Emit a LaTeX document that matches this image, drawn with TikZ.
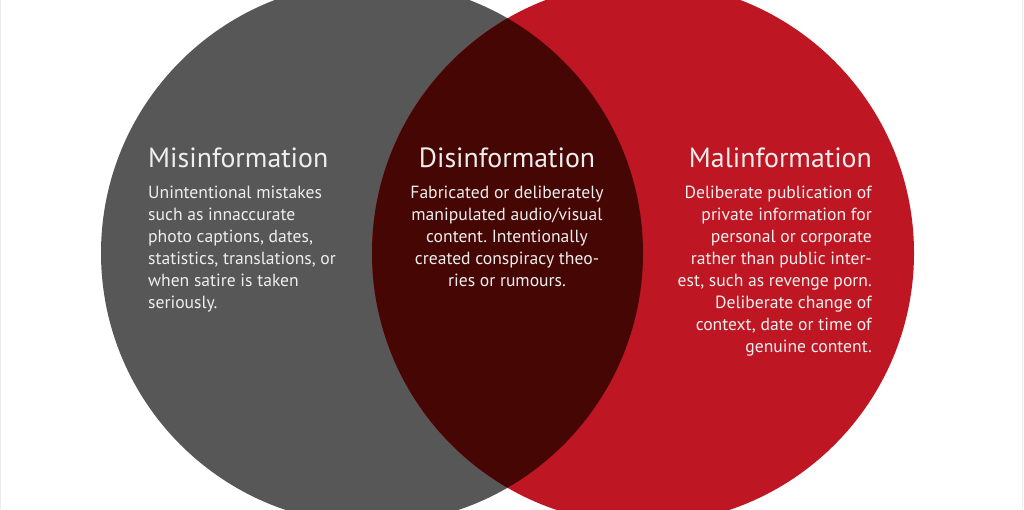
\documentclass[tikz,border=0pt]{standalone}
\usepackage{fontspec}
\setmainfont{PT Sans}
\frenchspacing
\definecolor{cgray}{RGB}{87,87,87}
\definecolor{cred}{RGB}{190,22,34}
\definecolor{cdark}{RGB}{70,6,4}
\definecolor{ctext}{RGB}{238,238,238}
\definecolor{cedge}{RGB}{236,236,236}
\begin{document}
\begin{tikzpicture}[x=1pt,y=-1pt,
  title/.style={text=ctext,inner sep=0pt,font=\fontsize{27.8}{32}\selectfont},
  body/.style={text=ctext,inner sep=0pt,font=\fontsize{17.6}{22}\selectfont}]
\useasboundingbox (0,0) rectangle (1024,509);
\fill[white] (0,0) rectangle (1024,509);
\draw[cedge,line width=1pt] (0.5,0) -- (0.5,509);
\draw[cedge,line width=1pt] (1022.5,0) -- (1022.5,509);
\fill[cgray] (372,253) circle[radius=271];
\fill[cred] (643,253) circle[radius=271];
\begin{scope}
  \clip (372,253) circle[radius=271];
  \fill[cdark] (643,253) circle[radius=271];
\end{scope}
\node[title,anchor=base west] (t1) at (148,167) {Misinformation};
\node[title,anchor=base] (t2) at (507,167) {Disinformation};
\node[title,anchor=base east] (t3) at (872,167) {Malinformation};
\node[body,anchor=north west,align=left] (b1) at (148,185.5) {Unintentional mistakes\\such as innaccurate\\photo captions, dates,\\statistics, translations, or\\when satire is taken\\seriously.};
\node[body,anchor=north,align=center] (b2) at (507,185.5) {Fabricated or deliberately\\manipulated audio/visual\\content. Intentionally\\created conspiracy theo-\\ries or rumours.};
\node[body,anchor=north east,align=right] (b3) at (872,185.5) {Deliberate publication of\\private information for\\personal or corporate\\rather than public inter-\\est, such as revenge porn.\\Deliberate change of\\context, date or time of\\genuine content.};
\end{tikzpicture}
\end{document}
